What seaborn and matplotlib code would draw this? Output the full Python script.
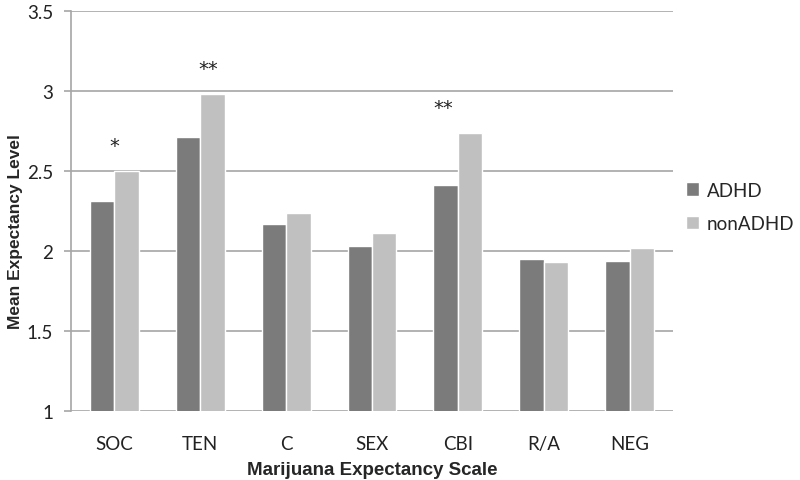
import matplotlib
matplotlib.use("Agg")
import matplotlib.pyplot as plt
import seaborn as sns
import pandas as pd

categories = ["SOC", "TEN", "C", "SEX", "CBI", "R/A", "NEG"]
adhd = [2.31, 2.71, 2.17, 2.03, 2.41, 1.95, 1.94]
non_adhd = [2.50, 2.98, 2.24, 2.11, 2.74, 1.93, 2.02]
groups = ["ADHD", "nonADHD"]
sig_labels = {"SOC": "*", "TEN": "**", "CBI": "**"}
yticks = [1, 1.5, 2, 2.5, 3, 3.5]

df = pd.DataFrame({
    "Scale": categories * 2,
    "Value": adhd + non_adhd,
    "Group": [groups[0]] * len(categories) + [groups[1]] * len(categories),
})

sns.set_style("white")
plt.rcParams["font.family"] = ["Lato", "DejaVu Sans"]

fig = plt.figure(figsize=(8, 4.81), dpi=100)
ax = fig.add_axes([0.089, 0.1435, 0.752, 0.8315])

palette = {"ADHD": "#7b7b7b", "nonADHD": "#c0c0c0"}
sns.barplot(data=df, x="Scale", y="Value", hue="Group", palette=palette,
            width=0.57, gap=0, ax=ax, saturation=1, zorder=3, legend=True)

ax.set_ylim(1, 3.5)
ax.set_yticks(yticks)
ax.set_yticklabels([f"{t:g}" for t in yticks], fontsize=13.5)
ax.set_xlim(-0.5, len(categories) - 0.5)
ax.yaxis.grid(True, color="#a6a6a6", linewidth=1.2, zorder=0)
ax.set_axisbelow(True)
for s in ["top", "right", "bottom"]:
    ax.spines[s].set_visible(False)
ax.spines["left"].set_color("#a6a6a6")
ax.spines["left"].set_linewidth(1.2)
ax.tick_params(axis="y", left=True, length=5, color="#a6a6a6", width=1.2, pad=8, labelcolor="#222222")
ax.tick_params(axis="x", bottom=False, labelsize=13.5, pad=14, labelcolor="#222222")

ax.set_xlabel("Marijuana Expectancy Scale", fontsize=13.5, fontweight="bold",
              family=["Liberation Sans"], labelpad=6)
ax.set_ylabel("Mean Expectancy Level", fontsize=12.5, fontweight="bold",
              family=["Liberation Sans"])
ax.yaxis.set_label_coords(-0.08, 0.45)

offsets = {"SOC": 0.0, "TEN": 0.1, "CBI": -0.17}
for cat, lab in sig_labels.items():
    i = categories.index(cat)
    top = max(adhd[i], non_adhd[i])
    ax.text(i + offsets[cat], top + 0.1, lab, ha="center", va="bottom",
            fontsize=14, color="#222222", family=["DejaVu Sans"])

handles, labels = ax.get_legend_handles_labels()
ax.legend(handles, labels, loc="center left", bbox_to_anchor=(1.0, 0.51),
          borderaxespad=0.3, frameon=False, fontsize=13.5, handlelength=0.7,
          handleheight=0.7, handletextpad=0.4, labelspacing=0.9)

fig.savefig("out.png", dpi=100)
